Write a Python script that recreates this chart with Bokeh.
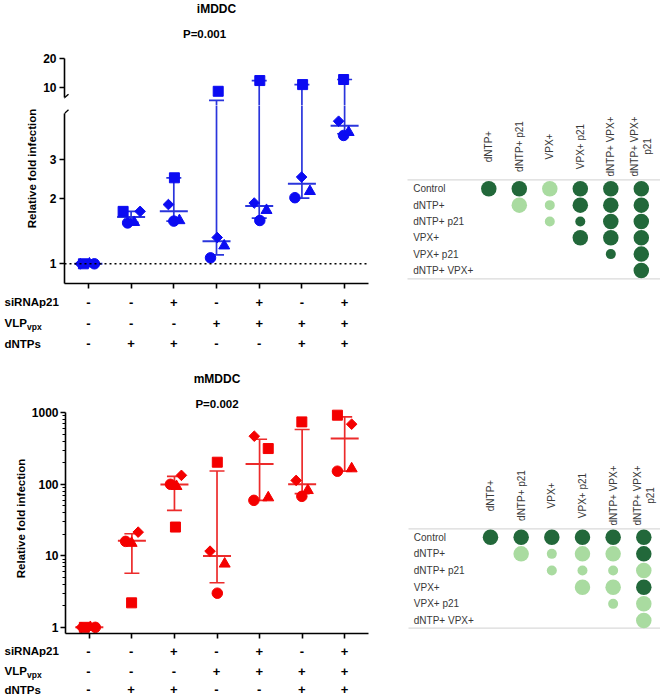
import math
from bokeh.plotting import figure
from bokeh.models import Range1d, FixedTicker, PrintfTickFormatter, Span, Arrow
from bokeh.layouts import row, column
from bokeh.embed import file_html
from bokeh.resources import INLINE
from bokeh.core.properties import value

FONT = "Liberation Sans"

# ---------------- data ----------------
categories = [1, 2, 3, 4, 5, 6, 7]
row_sirna = ["-", "-", "+", "-", "+", "-", "+"]
row_vlp = ["-", "-", "-", "+", "+", "+", "+"]
row_dntp = ["-", "+", "+", "-", "-", "+", "+"]

imddc_circle = [1.0, 1.54, 1.57, 1.065, 1.58, 2.01, 3.88]
imddc_square = [1.0, 1.74, 2.48, 9.2, 11.9, 10.8, 12.2]
imddc_triangle = [1.0, 1.55, 1.58, 1.21, 1.76, 2.15, 4.01]
imddc_diamond = [1.0, 1.74, 1.87, 1.32, 1.90, 2.50, 4.51]
imddc_median = [1.0, 1.64, 1.74, 1.27, 1.84, 2.33, 4.30]
imddc_low = [1.0, 1.55, 1.57, 1.10, 1.62, 2.0, 3.95]
imddc_high = [1.0, 1.74, 2.48, 7.4, 11.9, 10.8, 12.2]

mmddc_circle = [1.0, 15.9, 99.8, 3.0, 59.5, 67.7, 152]
mmddc_square = [1.0, 2.2, 25.2, 203, 315, 743, 922]
mmddc_triangle = [1.0, 15.0, 93.5, 7.7, 64.9, 82, 165]
mmddc_diamond = [1.0, 21.4, 133, 11.6, 469, 113, 690]
mmddc_median = [1.0, 16.2, 98.7, 9.9, 192, 99.7, 435]
mmddc_low = [1.0, 5.7, 43, 4.2, 59.5, 73.9, 152]
mmddc_high = [1.0, 20.3, 129, 153, 425, 582, 873]

imddc_ticks_upper = [10, 20]
imddc_ticks_lower = [1, 2, 3]
mmddc_ticks = [1, 10, 100, 1000]
mmddc_minor_ticks = [2, 3, 4, 5, 6, 7, 8, 9, 20, 30, 40, 50, 60, 70, 80, 90,
                     200, 300, 400, 500, 600, 700, 800, 900]

matrix_rows = ["Control", "dNTP+", "dNTP+ p21", "VPX+", "VPX+ p21", "dNTP+ VPX+"]
matrix_cols = ["dNTP+", "dNTP+ p21", "VPX+", "VPX+ p21", "dNTP+ VPX+", "dNTP+ VPX+\np21"]
N = None
# 1 = significant (dark), 0 = not significant (light)
imddc_sig = [[1, 1, 0, 1, 1, 1],
             [N, 0, 0, 1, 1, 1],
             [N, N, 0, 1, 1, 1],
             [N, N, N, 1, 1, 1],
             [N, N, N, N, 1, 1],
             [N, N, N, N, N, 1]]
# 2 = large effect, 1 = small effect
imddc_mag = [[2, 2, 2, 2, 2, 2],
             [N, 2, 1, 2, 2, 2],
             [N, N, 1, 1, 2, 2],
             [N, N, N, 2, 2, 2],
             [N, N, N, N, 1, 2],
             [N, N, N, N, N, 2]]
mmddc_sig = [[1, 1, 1, 1, 1, 1],
             [N, 0, 0, 0, 0, 1],
             [N, N, 0, 0, 0, 0],
             [N, N, N, 0, 0, 1],
             [N, N, N, N, 0, 0],
             [N, N, N, N, N, 0]]
mmddc_mag = [[2, 2, 2, 2, 2, 2],
             [N, 2, 1, 2, 2, 2],
             [N, N, 1, 1, 1, 2],
             [N, N, N, 2, 2, 2],
             [N, N, N, N, 1, 2],
             [N, N, N, N, N, 2]]

# ---------------- layout-only settings ----------------
jit_imddc = {"circle": [6, -3.5, 0, -6, 0.6, -7, -1],
             "square": [-5, -8, 0.6, 1.7, 0.6, 0.7, -1],
             "triangle": [1, 3, 5.6, 7.7, 7.3, 8, 4],
             "diamond": [-8, 9, -5.4, 0.7, -5, -0.3, -6]}
jit_mmddc = {"circle": [6, -6.3, -4, 0.3, -5.7, -0.3, -7.3],
             "square": [-5, -0.3, 1, 0.3, 8.7, -0.3, -7.3],
             "triangle": [1, -0.3, 2, 7.7, 8.7, 5.7, 7],
             "diamond": [-8, 6.3, 7, -7, -5.3, -6, 7]}

BLUE, BLUE_L = "#0b0bf2", "#2a35dc"
RED, RED_L = "#f40000", "#ec2b2b"
DARK, LIGHT = "#22683a", "#a9dba0"
TXT = "#383838"
LEFT_W, RIGHT_W = 380, 280
FR_L, FR_R = 64, 12            # common frame borders of the left column
PPU = 42.7
x_cat = Range1d(0.44, 0.44 + (LEFT_W - FR_L - FR_R) / PPU)


def new_fig(w, h, xr, yr, ytype="linear", top=0, right=0, bottom=0, left=0, xaxis=False, yaxis=False):
    p = figure(width=w, height=h, x_range=xr, y_range=yr, y_axis_type=ytype,
               output_backend="svg", toolbar_location=None,
               x_axis_location="below" if xaxis else None,
               y_axis_location="left" if yaxis else None,
               min_border_top=top, min_border_right=right,
               min_border_bottom=bottom, min_border_left=left)
    p.outline_line_color = None
    p.grid.visible = False
    p.background_fill_color = "white"
    p.border_fill_color = "white"
    return p


def style_axis(ax):
    ax.axis_line_width = 1.6
    ax.axis_line_color = "black"
    ax.major_tick_line_width = 1.6
    ax.major_tick_out = 5
    ax.major_tick_in = 0
    ax.minor_tick_out = 3
    ax.minor_tick_in = 0
    ax.minor_tick_line_width = 1.2
    ax.major_label_text_font = FONT
    ax.major_label_text_font_style = "bold"
    ax.major_label_text_font_size = "12px"
    ax.major_label_text_color = "black"
    ax.major_label_standoff = 3


def blank_xaxis(p):
    ax = p.xaxis[0]
    style_axis(ax)
    ax.ticker = FixedTicker(ticks=categories)
    ax.major_label_overrides = {c: "" for c in categories}
    ax.major_label_text_font_size = "1px"
    ax.major_label_standoff = 0


def dot_layers(p, d, jit, mcol, lcol):
    p.segment(x0=categories, y0=d["low"], x1=categories, y1=d["high"], line_color=lcol, line_width=1.7)
    p.scatter(categories, d["high"], marker="dash", size=15, line_color=lcol, line_width=1.7)
    p.scatter(categories, d["low"], marker="dash", size=15, line_color=lcol, line_width=1.7)
    p.scatter(categories, d["median"], marker="dash", size=28, line_color=lcol, line_width=2)
    for name, marker, size, ang in [("circle", "circle", 10.5, 0), ("square", "square", 10, 0),
                                    ("triangle", "triangle", 11, 0), ("diamond", "square", 7.5, math.pi / 4)]:
        xs = [c + j / PPU for c, j in zip(categories, jit[name])]
        p.scatter(xs, d[name], marker=marker, size=size, angle=ang, fill_color=mcol, line_color=mcol)


def txt(p, x, y, text, size="12px", angle=0, style="bold", align="center", color="black", **kw):
    p.text(x=x if isinstance(x, list) else [x], y=y if isinstance(y, list) else [y],
           text=text if isinstance(text, list) else [text], text_font=value(FONT), text_font_size=size,
           text_font_style=style, text_color=color, text_align=align, text_baseline="middle", angle=angle, **kw)


def label_fig(w, h, cx, cy, text):
    p = new_fig(w, h, Range1d(0, w), Range1d(h, 0))
    txt(p, cx, cy, text, "11.5px", angle=math.pi / 2)
    return p


imddc = dict(circle=imddc_circle, square=imddc_square, triangle=imddc_triangle, diamond=imddc_diamond,
             median=imddc_median, low=imddc_low, high=imddc_high)
mmddc = dict(circle=mmddc_circle, square=mmddc_square, triangle=mmddc_triangle, diamond=mmddc_diamond,
             median=mmddc_median, low=mmddc_low, high=mmddc_high)

# ---------------- iMDDC (broken log axis: two stacked panels) ----------------
A_PPD, A_AX_TOP, A_PAD, A_H = 96.0, 20.2, 58, 105
A_BOTTOM = A_AX_TOP / 10 ** ((A_H - A_PAD) / A_PPD)
A = new_fig(LEFT_W, A_H, x_cat, Range1d(A_BOTTOM, A_AX_TOP * 10 ** (A_PAD / A_PPD)), "log",
            right=FR_R, left=FR_L, yaxis=True)
style_axis(A.yaxis[0])
A.yaxis[0].ticker = FixedTicker(ticks=imddc_ticks_upper)
A.yaxis[0].formatter = PrintfTickFormatter(format="%d")
A.yaxis[0].bounds = (7.9, A_AX_TOP)
dot_layers(A, imddc, jit_imddc, BLUE, BLUE_L)
txt(A, 4.0, A_AX_TOP * 10 ** ((A_PAD - 8) / A_PPD), "iMDDC", "12px")
txt(A, 3.72, A_AX_TOP * 10 ** ((A_PAD - 33.5) / A_PPD), "P=0.001", "11.5px")

B_PPD, B_H, B_FR = 218.0, 186, 178
B_TOP = 10 ** ((263.3 - 105) / B_PPD)
LB_W = 40
B = new_fig(LEFT_W - LB_W, B_H, x_cat, Range1d(B_TOP / 10 ** (B_FR / B_PPD), B_TOP), "log",
            right=FR_R, bottom=B_H - B_FR, left=FR_L - LB_W, xaxis=True, yaxis=True)
style_axis(B.yaxis[0])
B.yaxis[0].ticker = FixedTicker(ticks=imddc_ticks_lower)
B.yaxis[0].formatter = PrintfTickFormatter(format="%d")
B.yaxis[0].bounds = (B_TOP / 10 ** (B_FR / B_PPD), 4.9)
blank_xaxis(B)
B.add_layout(Span(location=1, dimension="width", line_color="black", line_dash="2 3", line_width=1.5))
dot_layers(B, imddc, jit_imddc, BLUE, BLUE_L)
LB = label_fig(LB_W, B_H, 31.7, 65.8, "Relative fold infection")

# axis break marks
dx = 4 / PPU
A.add_layout(Arrow(end=None, x_start=x_cat.start - dx, y_start=7.9 / 10 ** (3.5 / A_PPD),
                   x_end=x_cat.start + dx, y_end=7.9 * 10 ** (3.5 / A_PPD), line_width=1.3, line_color="black"))
B.add_layout(Arrow(end=None, x_start=x_cat.start - dx, y_start=4.9 / 10 ** (3.5 / B_PPD),
                   x_end=x_cat.start + dx, y_end=4.9 * 10 ** (3.5 / B_PPD), line_width=1.3, line_color="black"))


def table_block(h, rows_px):
    lab = new_fig(FR_L, h, Range1d(0, FR_L), Range1d(h, 0))
    txt(lab, [4] * 3, rows_px, ["siRNAp21", "VLP", "dNTPs"], "11.5px", align="left")
    txt(lab, 4, rows_px[1], "vpx", "8.5px", align="left", x_offset=22.5, y_offset=3.5)
    tab = new_fig(LEFT_W - FR_L, h, x_cat, Range1d(h, 0), right=FR_R)
    for signs, y in zip([row_sirna, row_vlp, row_dntp], rows_px):
        txt(tab, categories, [y] * len(categories), signs, "13px")
    return row(lab, tab)


C = table_block(61, [10.7, 31.7, 52.3])

# ---------------- mMDDC ----------------
D_AX_TOP, D_PAD, D_FR, D_BOT = 1005.0, 60, 221, 0.82
D_PPD = D_FR / math.log10(D_AX_TOP / D_BOT)
LD_W = 28
D = new_fig(LEFT_W - LD_W, D_PAD + D_FR + 8, x_cat,
            Range1d(D_BOT, D_AX_TOP * 10 ** (D_PAD / D_PPD)), "log", right=FR_R, bottom=8, left=FR_L - LD_W,
            xaxis=True, yaxis=True)
style_axis(D.yaxis[0])
D.yaxis[0].ticker = FixedTicker(ticks=mmddc_ticks, minor_ticks=mmddc_minor_ticks)
D.yaxis[0].formatter = PrintfTickFormatter(format="%d")
D.yaxis[0].major_label_standoff = 2
D.yaxis[0].bounds = (D_BOT, D_AX_TOP)
blank_xaxis(D)
dot_layers(D, mmddc, jit_mmddc, RED, RED_L)
txt(D, 4.0, D_AX_TOP * 10 ** ((D_PAD - 26) / D_PPD), "mMDDC", "12px")
txt(D, 4.0, D_AX_TOP * 10 ** ((D_PAD - 51) / D_PPD), "P=0.002", "11.5px")
LD = label_fig(LD_W, D_PAD + D_FR + 8, 20.5, 170.7, "Relative fold infection")

E = table_block(56, [9.5, 29.5, 48])


# ---------------- significance matrices ----------------
def matrix_fig(h, sig, mag, col0, dcol, row0, drow, label_px, header_px, top_px, bot_px, line_px):
    W = RIGHT_W
    p = new_fig(W, h, Range1d(-col0 / dcol, (W - col0) / dcol), Range1d((row0 - h) / drow, row0 / drow))
    xs, ys, cols, sizes = [], [], [], []
    for i in range(len(matrix_rows)):
        for j in range(len(matrix_cols)):
            if sig[i][j] is None:
                continue
            xs.append(j)
            ys.append(-i)
            cols.append(DARK if sig[i][j] else LIGHT)
            sizes.append(15.5 if mag[i][j] == 2 else 10)
    ytop = (row0 - top_px) / drow
    ybot = (row0 - bot_px) / drow
    xl = (line_px - col0) / dcol
    p.segment(x0=[xl, xl], y0=[ytop, ybot], x1=[(W - col0) / dcol] * 2, y1=[ytop, ybot],
              line_color="#dadada", line_width=1.2)
    p.scatter(xs, ys, size=sizes, fill_color=cols, line_color=None)
    txt(p, [(label_px - col0) / dcol] * len(matrix_rows), [-i for i in range(len(matrix_rows))],
        matrix_rows, "10px", style="normal", align="left", color=TXT)
    txt(p, list(range(len(matrix_cols))), [(row0 - header_px) / drow] * len(matrix_cols), matrix_cols,
        "10px", angle=math.pi / 2, style="normal", color=TXT, text_line_height=1.15)
    return p


F = matrix_fig(352, imddc_sig, imddc_mag, 108.3, 30.5, 188.3, 16.33, 32.7, 146, 179.3, 278.3, 27)
G = matrix_fig(345, mmddc_sig, mmddc_mag, 110, 30.66, 184.7, 16.66, 33.3, 143, 176.3, 275.7, 28)

left = column(A, row(LB, B), C, row(LD, D), E)
layout = row(left, column(F, G))
open("out.html", "w").write(file_html(layout, INLINE))
